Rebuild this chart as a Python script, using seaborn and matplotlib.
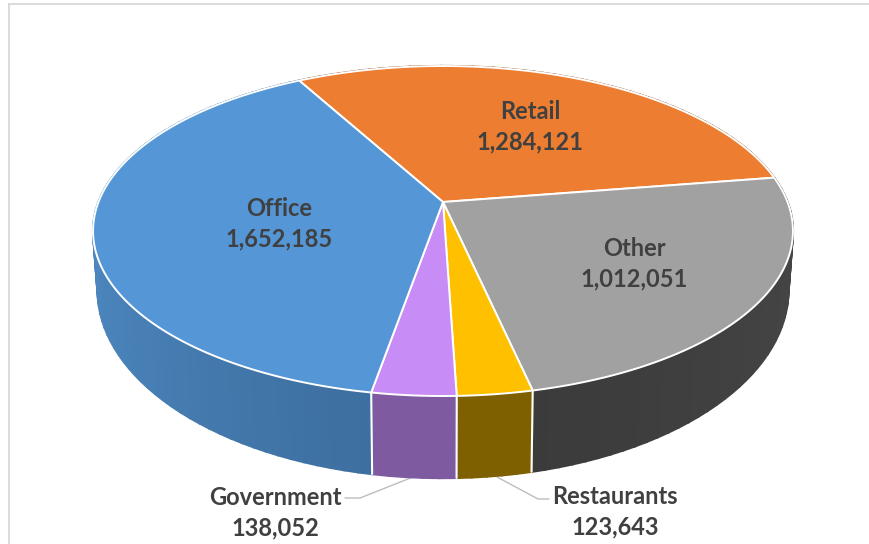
import numpy as np
import matplotlib
matplotlib.use("Agg")
import matplotlib.pyplot as plt
from matplotlib.colors import to_rgb
import seaborn as sns

# Floor area by use, clockwise from the back of the disc
categories = ["Retail", "Other", "Restaurants", "Government", "Office"]
values = [1284121, 1012051, 123643, 138052, 1652185]
top_colors = ["#ED7D31", "#A1A1A1", "#FFC000", "#C78CF5", "#5596D6"]
wall_near = ["#8E4B1D", "#3A3A3A", "#7F6000", "#7E5AA0", "#3C6E9E"]
wall_far = ["#8E4B1D", "#454545", "#7F6000", "#8A60AC", "#4C86BE"]
start_angle = 118.8

label_xy = {"Retail": (530, 127), "Other": (634, 264), "Office": (279, 224),
            "Government": (275, 513), "Restaurants": (615, 512)}
leaders = {"Government": ([345, 360, 413], [498, 498, 477]),
           "Restaurants": ([497, 538, 549], [477, 499, 499])}

sns.set_theme(style="white")
plt.rcParams["font.family"] = ["Lato", "DejaVu Sans"]

CX = 443
TILT = 0.1758


def project(theta, apex_y, half_w, half_h):
    """Perspective view of a point on the unit circle at angle theta (degrees)."""
    t = np.radians(theta)
    u, v = np.cos(t), np.sin(t)
    w = 1 + TILT * v
    return CX + half_w * u / w, apex_y - half_h * v / w


def rim_top(theta):
    return project(theta, 202, 344.5, 159.9)


def rim_bottom(theta):
    return project(theta, 257, 340, 182.2)


fig = plt.figure(figsize=(8.69, 5.44), dpi=100)
ax = fig.add_axes([0, 0, 1, 1])
ax.set_xlim(0, 869)
ax.set_ylim(544, 0)
ax.axis("off")

edges = start_angle - np.cumsum([0] + values) / sum(values) * 360

# Outer wall, shaded in thin strips from the front towards the sides
for i, name in enumerate(categories):
    a0, a1 = edges[i], edges[i + 1]
    steps = np.linspace(a0, a1, max(int(abs(a1 - a0) / 2), 2) + 1)
    near, far = np.array(to_rgb(wall_near[i])), np.array(to_rgb(wall_far[i]))
    for s0, s1 in zip(steps[:-1], steps[1:]):
        mid = np.radians((s0 + s1) / 2)
        mix = np.clip(abs(np.cos(mid)), 0, 1) ** 1.5
        colour = near + (far - near) * mix
        arc = np.linspace(s0, s1, 6)
        xt, yt = rim_top(arc)
        xb, yb = rim_bottom(arc[::-1])
        ax.fill(np.r_[xt, xb], np.r_[yt, yb], facecolor=colour, edgecolor=colour,
                lw=1.6, zorder=2)

# White seams between the wall sections on the visible front
for a in edges[:-1]:
    if np.sin(np.radians(a)) < -0.5:
        xt, yt = rim_top(a)
        xb, yb = rim_bottom(a)
        ax.plot([xt, xb], [yt, yb], color="white", lw=1.5, zorder=3)

# Top face
for i, name in enumerate(categories):
    arc = np.linspace(edges[i], edges[i + 1], 200)
    xs, ys = rim_top(arc)
    ax.fill(np.r_[CX, xs], np.r_[202, ys], facecolor=top_colors[i],
            edgecolor="white", lw=1.4, joinstyle="round", zorder=4)

# Slice labels and leader lines
for name, value in zip(categories, values):
    x, y = label_xy[name]
    ax.text(x, y, f"{name}\n{value:,}", ha="center", va="center", fontsize=17,
            fontweight="bold", color="#404040", linespacing=1.38, zorder=6)
for name, (lx, ly) in leaders.items():
    ax.plot(lx, ly, color="#BDBDBD", lw=1, zorder=1)

# Chart frame
ax.plot([8.5, 8.5], [544, 3.5], color="#D4D4D4", lw=1.2, zorder=0)
ax.plot([8.5, 869], [3.5, 3.5], color="#D4D4D4", lw=1.2, zorder=0)

fig.savefig("out.png", dpi=100, facecolor="white")
